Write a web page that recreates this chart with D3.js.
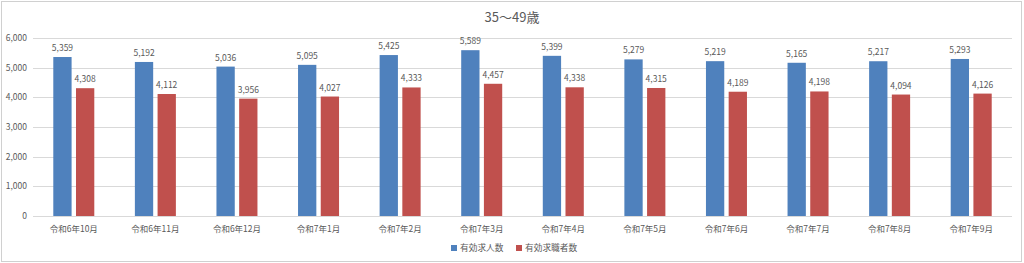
<!DOCTYPE html>
<html>
<head>
<meta charset="utf-8">
<script src="https://cdn.jsdelivr.net/npm/d3@7"></script>
<style>
  html, body { margin: 0; padding: 0; background: #fff; }
  svg { display: block; }
  text { font-family: "Noto Sans CJK JP", "Noto Sans", sans-serif; fill: #595959; }
</style>
</head>
<body>
<svg id="chart" width="1024" height="263"></svg>
<script>
const categories = ['令和6年10月','令和6年11月','令和6年12月','令和7年1月','令和7年2月','令和7年3月',
                    '令和7年4月','令和7年5月','令和7年6月','令和7年7月','令和7年8月','令和7年9月']
const seriesNames = ['有効求人数','有効求職者数']
const jobOffers = [5359,5192,5036,5095,5425,5589,5399,5279,5219,5165,5217,5293]
const jobSeekers = [4308,4112,3956,4027,4333,4457,4338,4315,4189,4198,4094,4126]
const yTicks = [0,1000,2000,3000,4000,5000,6000]
const title = '35〜49歳'

const colors = ['#4f81bd','#c0504d']
const W = 1024, H = 263
const plot = {left: 33, right: 1012, top: 38, bottom: 216}

const svg = d3.select('#chart')

// frame
svg.append('rect').attr('x',1.5).attr('y',1.5).attr('width',W-4).attr('height',H-3)
  .attr('fill','#fff').attr('stroke','#d0d0d0')

const x = d3.scaleBand().domain(categories).range([plot.left, plot.right]).padding(0)
const inner = d3.scaleBand().domain(seriesNames).range([-20.5, 20.5]).paddingInner(0.194).paddingOuter(0)
const y = d3.scaleLinear().domain([0,6000]).range([plot.bottom, plot.top])

// gridlines
svg.append('g').selectAll('line').data(yTicks).join('line')
  .attr('x1', plot.left).attr('x2', plot.right)
  .attr('y1', d => Math.round(y(d)) + 0.5).attr('y2', d => Math.round(y(d)) + 0.5)
  .attr('stroke','#d9d9d9')

// y axis labels
svg.append('g').selectAll('text').data(yTicks).join('text')
  .attr('x', 27).attr('y', d => y(d)).attr('dy','0.35em')
  .attr('text-anchor','end').style('font-size','8.5px')
  .text(d => d3.format(',')(d))

const rows = categories.map((c,i) => ({cat: c, vals: [jobOffers[i], jobSeekers[i]]}))

const groups = svg.append('g').selectAll('g').data(rows).join('g')
  .attr('transform', d => `translate(${x(d.cat) + x.bandwidth()/2},0)`)

groups.selectAll('rect').data(d => d.vals.map((v,j) => ({name: seriesNames[j], v, j}))).join('rect')
  .attr('x', d => inner(d.name)).attr('width', inner.bandwidth())
  .attr('y', d => y(d.v)).attr('height', d => y(0) - y(d.v))
  .attr('fill', d => colors[d.j])

groups.selectAll('text.val').data(d => d.vals.map((v,j) => ({name: seriesNames[j], v, j}))).join('text')
  .attr('class','val')
  .attr('x', d => inner(d.name) + inner.bandwidth()/2)
  .attr('y', d => y(d.v) - 6)
  .attr('text-anchor','middle').style('font-size','8.5px')
  .text(d => d3.format(',')(d.v))

// category labels
svg.append('g').selectAll('text').data(categories).join('text')
  .attr('x', d => x(d) + x.bandwidth()/2).attr('y', 229).attr('dy','0.35em')
  .attr('text-anchor','middle').style('font-size','8.5px')
  .text(d => d)

// title
svg.append('text').attr('x', 512).attr('y', 17).attr('dy','0.35em')
  .attr('text-anchor','middle').style('font-size','13px')
  .text(title)

// legend
const legend = svg.append('g').attr('transform','translate(451,248)')
const legendX = [0, 65]
seriesNames.forEach((n,i) => {
  legend.append('rect').attr('x', legendX[i]).attr('y', -3).attr('width',6).attr('height',6).attr('fill', colors[i])
  legend.append('text').attr('x', legendX[i] + 9).attr('y', 0).attr('dy','0.35em')
    .style('font-size','8.7px').text(n)
})
</script>
</body>
</html>
